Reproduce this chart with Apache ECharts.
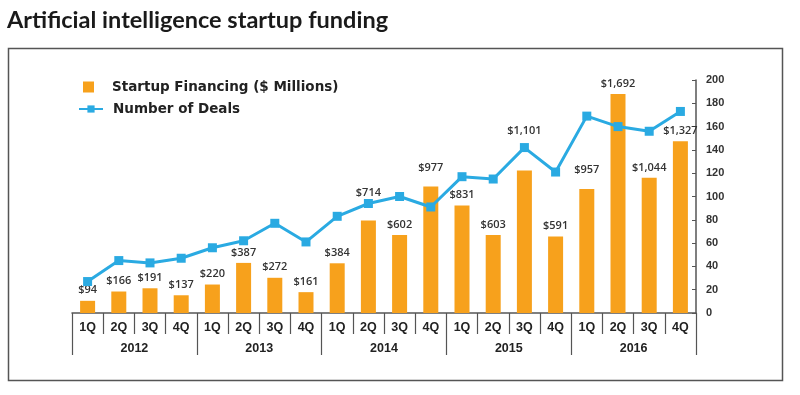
<!DOCTYPE html>
<html><head><meta charset="utf-8">
<script src="https://cdn.jsdelivr.net/npm/echarts@6/dist/echarts.min.js"></script>
<style>html,body{margin:0;padding:0;background:#fff}#c{width:800px;height:395px}</style>
</head><body><div id="c"></div>
<script>
const quarters = ['1Q','2Q','3Q','4Q','1Q','2Q','3Q','4Q','1Q','2Q','3Q','4Q','1Q','2Q','3Q','4Q','1Q','2Q','3Q','4Q'];
const years = ['2012','2013','2014','2015','2016'];
const financing = [94,166,191,137,220,387,272,161,384,714,602,977,831,603,1101,591,957,1692,1044,1327];
const deals = [27,45,43,47,56,62,77,61,83,94,100,91,117,115,142,121,169,160,156,173];
const dealTicks = [0,20,40,60,80,100,120,140,160,180,200];

const chart = echarts.init(document.getElementById('c'));
const extraLift = {9:17, 11:8, 14:29, 16:9};
const barData = financing.map((v,i)=>{
  const d = {value:v};
  if (extraLift[i]) d.label = {offset:[0,-extraLift[i]]};
  return d;
});
const axisColor = '#555';
chart.setOption({
  animation:false,
  title:{text:'Artificial intelligence startup funding', left:2, top:3,
    textStyle:{fontFamily:'Lato', fontWeight:'bold', fontSize:23.5, color:'#1a1a1a'}},
  graphic:[{type:'rect', shape:{x:8.5,y:48.5,width:774,height:332}, style:{fill:'none', stroke:'#555', lineWidth:1.5}, silent:true}],
  legend:[
    {data:['Startup Financing ($ Millions)'], left:83, top:80, padding:0, itemWidth:11, itemHeight:11, icon:'rect',
     textStyle:{fontFamily:'DejaVu Sans', fontWeight:'bold', fontSize:13.5, color:'#222', padding:[0,0,0,13]}},
    {data:['Number of Deals'], left:78, top:102, padding:0, itemWidth:24, itemHeight:9,
     textStyle:{fontFamily:'DejaVu Sans', fontWeight:'bold', fontSize:13.5, color:'#222', padding:[0,0,0,5]}}
  ],
  grid:[{left:72, right:104, top:80, bottom:82}, {left:72, right:104, top:80, bottom:61}],
  xAxis:[
    {type:'category', data:quarters, position:'bottom', gridIndex:0,
     axisLine:{show:true, lineStyle:{color:axisColor, width:1.5}},
     axisTick:{show:true, interval:0, length:21, lineStyle:{color:axisColor, width:1.2}},
     axisLabel:{interval:0, margin:8, fontFamily:'Liberation Sans', fontWeight:'bold', fontSize:12.5, color:'#222'}},
    {type:'category', data:years, position:'bottom', gridIndex:1,
     axisLine:{show:false},
     axisTick:{show:true, interval:0, length:21, lineStyle:{color:axisColor, width:1.2}},
     axisLabel:{show:true, interval:0, margin:8, fontFamily:'Liberation Sans', fontWeight:'bold', fontSize:12.5, color:'#222'}}
  ],
  yAxis:[
    {type:'value', min:0, max:1800, show:false, gridIndex:0},
    {type:'value', min:0, max:200, interval:20, position:'right', gridIndex:0,
     splitLine:{show:false},
     axisLine:{show:true, lineStyle:{color:axisColor, width:1.5}},
     axisTick:{show:true, inside:true, length:4, lineStyle:{color:axisColor}},
     axisLabel:{margin:10, fontFamily:'Liberation Sans', fontWeight:'bold', fontSize:11, color:'#333',
       formatter:v=>dealTicks.includes(v)?String(v):''}},
    {type:'value', show:false, gridIndex:1}
  ],
  series:[
    {name:'Startup Financing ($ Millions)', type:'bar', xAxisIndex:0, yAxisIndex:0, data:barData,
     barWidth:15, itemStyle:{color:'#f7a11c'},
     label:{show:true, position:'top', distance:5, formatter:p=>'$'+p.value.toLocaleString('en-US'),
       fontFamily:'Open Sans', fontWeight:600, fontSize:11, color:'#333'}},
    {name:'Number of Deals', type:'line', xAxisIndex:0, yAxisIndex:1, data:deals,
     symbol:'rect', symbolSize:9, lineStyle:{color:'#2aaae2', width:3}, itemStyle:{color:'#2aaae2'}, z:3}
  ]
});
</script></body></html>
